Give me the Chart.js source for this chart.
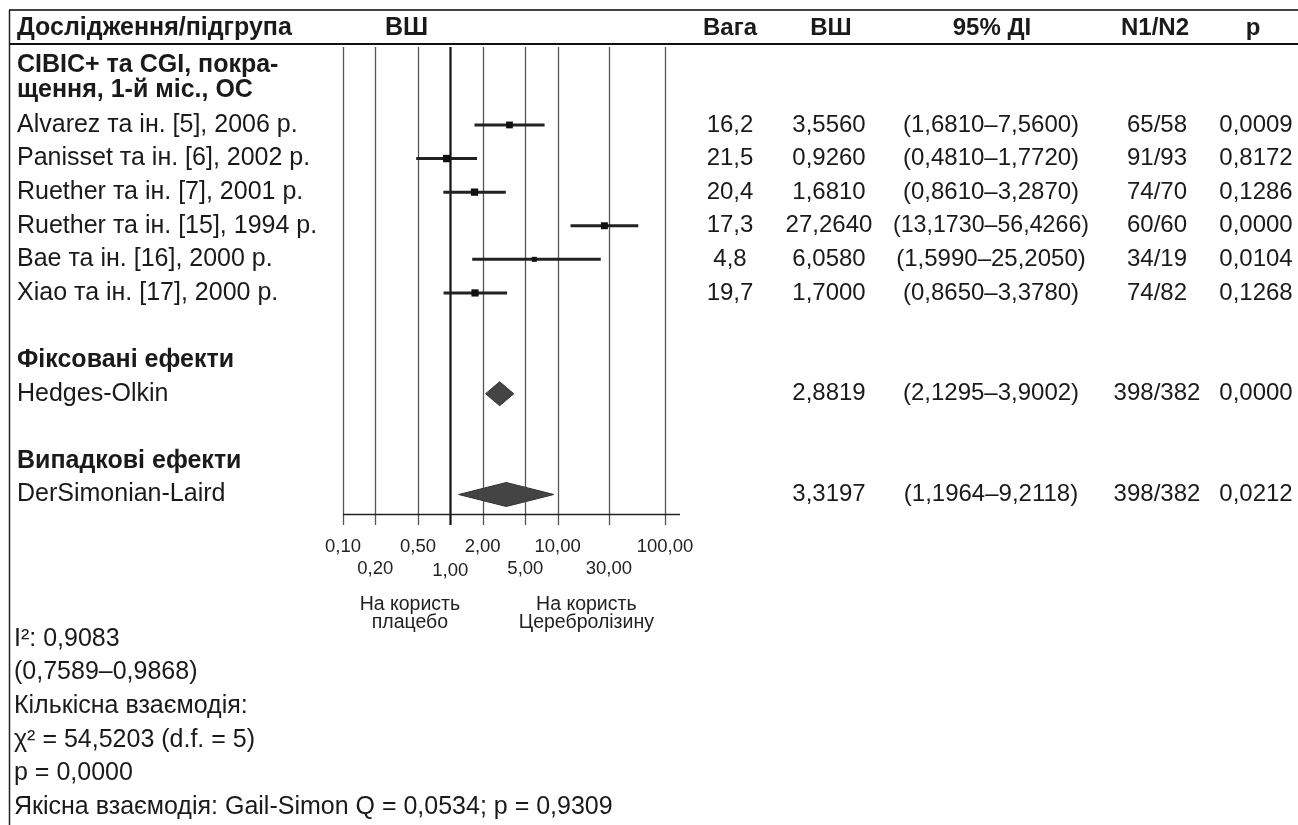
<!DOCTYPE html>
<html><head><meta charset="utf-8">
<script src="https://cdn.jsdelivr.net/npm/chart.js@4.4.1/dist/chart.umd.min.js"></script>
<style>html,body{margin:0;padding:0;background:#fff}#c{display:block}</style>
</head><body>
<canvas id="c" width="1298" height="825"></canvas>
<script>
// ---- data ----
const studies = ['Alvarez та ін. [5], 2006 р.', 'Panisset та ін. [6], 2002 р.', 'Ruether та ін. [7], 2001 р.',
  'Ruether та ін. [15], 1994 р.', 'Bae та ін. [16], 2000 р.', 'Xiao та ін. [17], 2000 р.'];
const weights = [16.2, 21.5, 20.4, 17.3, 4.8, 19.7];
const oddsRatio = [3.5560, 0.9260, 1.6810, 27.2640, 6.0580, 1.7000];
const ciLow = [1.6810, 0.4810, 0.8610, 13.1730, 1.5990, 0.8650];
const ciHigh = [7.5600, 1.7720, 3.2870, 56.4266, 25.2050, 3.3780];
const nCounts = ['65/58', '91/93', '74/70', '60/60', '34/19', '74/82'];
const pValues = ['0,0009', '0,8172', '0,1286', '0,0000', '0,0104', '0,1268'];
const summaryNames = ['Hedges-Olkin', 'DerSimonian-Laird'];
const summaryGroups = ['Фіксовані ефекти', 'Випадкові ефекти'];
const summaryOR = [2.8819, 3.3197];
const summaryLow = [2.1295, 1.1964];
const summaryHigh = [3.9002, 9.2118];
const summaryN = ['398/382', '398/382'];
const summaryP = ['0,0000', '0,0212'];
const tickValues = [0.1, 0.2, 0.5, 1, 2, 5, 10, 30, 100];
const tickLabels = ['0,10', '0,20', '0,50', '1,00', '2,00', '5,00', '10,00', '30,00', '100,00'];
const headers = ['Дослідження/підгрупа', 'ВШ', 'Вага', 'ВШ', '95% ДІ', 'N1/N2', 'p'];
const groupTitle = ['CIBIC+ та CGI, покра-', 'щення, 1-й міс., ОС'];
const footLines = ['I²: 0,9083', '(0,7589–0,9868)', 'Кількісна взаємодія:', 'χ² = 54,5203 (d.f. = 5)', 'p = 0,0000',
  'Якісна взаємодія: Gail-Simon Q = 0,0534; p = 0,9309'];
const favourLeft = ['На користь', 'плацебо'];
const favourRight = ['На користь', 'Церебролізину'];

// ---- helpers ----
const FONT = '"Liberation Sans", Arial, sans-serif';
const fmt = (v, d) => v.toFixed(d).replace('.', ',');
const summaryRow = [8, 11];
const groupRow = [7, 10];
const COL = {weight: 730, or: 829, ci: 991, n: 1157, p: 1256};
const LEFT = 17;

const datasets = [];
studies.forEach((s, i) => {
  datasets.push({
    data: [{x: ciLow[i], y: i}, {x: ciHigh[i], y: i}],
    showLine: true, borderColor: '#222', borderWidth: 3, pointRadius: 0, order: 2
  });
});
datasets.push({
  data: oddsRatio.map((v, i) => ({x: v, y: i})),
  pointStyle: 'rect', pointRadius: weights.map(w => 2 + Math.sqrt(w) * 0.7),
  backgroundColor: '#111', borderColor: '#111', borderWidth: 0, order: 1
});

const tablePlugin = {
  id: 'table',
  beforeDatasetsDraw(chart) {
    const ctx = chart.ctx, xs = chart.scales.x, ys = chart.scales.y, ca = chart.chartArea;
    ctx.save();
    // grid lines + ticks
    tickValues.forEach(v => {
      const x = Math.round(xs.getPixelForValue(v)) + 0.5;
      ctx.beginPath();
      ctx.strokeStyle = v === 1 ? '#111' : '#555';
      ctx.lineWidth = v === 1 ? 2.2 : 1.3;
      ctx.moveTo(x, ca.top); ctx.lineTo(x, ca.bottom + 11); ctx.stroke();
    });
    // axis line
    ctx.beginPath(); ctx.strokeStyle = '#222'; ctx.lineWidth = 1.5;
    ctx.moveTo(ca.left, ca.bottom + 0.5); ctx.lineTo(ca.right, ca.bottom + 0.5); ctx.stroke();
    // tick labels (staggered)
    ctx.fillStyle = '#222'; ctx.font = '18.5px ' + FONT; ctx.textAlign = 'center'; ctx.textBaseline = 'middle';
    tickValues.forEach((v, i) => {
      const x = xs.getPixelForValue(v);
      const y = ca.bottom + (i % 2 === 0 ? 33 : 55) + (v === 1 ? 2 : 0);
      ctx.fillText(tickLabels[i], x, y);
    });
    // favour labels
    ctx.font = '19.5px ' + FONT;
    const xl = xs.getPixelForValue(0.42), xr = xs.getPixelForValue(18.5);
    favourLeft.forEach((t, k) => ctx.fillText(t, xl, ca.bottom + 91 + k * 18));
    favourRight.forEach((t, k) => ctx.fillText(t, xr, ca.bottom + 91 + k * 18));
    // diamonds
    summaryOR.forEach((v, i) => {
      const y = ys.getPixelForValue(summaryRow[i]);
      const xl = xs.getPixelForValue(summaryLow[i]), xm = xs.getPixelForValue(v), xh = xs.getPixelForValue(summaryHigh[i]);
      ctx.beginPath();
      ctx.moveTo(xl, y); ctx.lineTo(xm, y - 12); ctx.lineTo(xh, y); ctx.lineTo(xm, y + 12); ctx.closePath();
      ctx.fillStyle = '#444'; ctx.fill();
      ctx.strokeStyle = '#333'; ctx.lineWidth = 1; ctx.stroke();
    });
    ctx.restore();
  },
  afterDraw(chart) {
    const ctx = chart.ctx, ys = chart.scales.y, W = chart.width, H = chart.height;
    ctx.save();
    // frame lines
    ctx.strokeStyle = '#444'; ctx.lineWidth = 2;
    ctx.beginPath(); ctx.moveTo(9, 10); ctx.lineTo(W, 10); ctx.stroke();
    ctx.strokeStyle = '#111';
    ctx.beginPath(); ctx.moveTo(9, 44); ctx.lineTo(W, 44); ctx.stroke();
    ctx.lineWidth = 1.5; ctx.strokeStyle = '#222';
    ctx.beginPath(); ctx.moveTo(9.5, 10); ctx.lineTo(9.5, H); ctx.stroke();

    ctx.fillStyle = '#1a1a1a'; ctx.textBaseline = 'middle';
    // headers
    ctx.font = 'bold 25px ' + FONT;
    ctx.textAlign = 'left';
    ctx.fillText(headers[0], LEFT, 28);
    ctx.fillText(headers[1], 385, 28);
    ctx.font = 'bold 24px ' + FONT;
    ctx.textAlign = 'center';
    ctx.fillText(headers[2], COL.weight, 28);
    ctx.fillText(headers[3], COL.or + 2, 28);
    ctx.fillText(headers[4], COL.ci + 1, 28);
    ctx.fillText(headers[5], COL.n - 2, 28);
    ctx.fillText(headers[6], COL.p - 3, 28);
    // group titles
    ctx.font = 'bold 25px ' + FONT;
    ctx.textAlign = 'left';
    ctx.fillText(groupTitle[0], LEFT, ys.getPixelForValue(-1.77));
    ctx.fillText(groupTitle[1], LEFT, ys.getPixelForValue(-1.03));
    summaryGroups.forEach((g, i) => ctx.fillText(g, LEFT, ys.getPixelForValue(groupRow[i])));

    const row = (name, y, w, orv, lo, hi, n, p) => {
      ctx.font = '25px ' + FONT;
      ctx.textAlign = 'left';
      ctx.fillText(name, LEFT, y);
      ctx.font = '24px ' + FONT;
      ctx.textAlign = 'center';
      if (w !== null) ctx.fillText(w, COL.weight, y);
      ctx.fillText(orv, COL.or, y);
      ctx.fillText('(' + lo + '–' + hi + ')', COL.ci, y, 196);
      ctx.fillText(n, COL.n, y);
      ctx.fillText(p, COL.p, y);
    };
    studies.forEach((s, i) => row(s, ys.getPixelForValue(i), fmt(weights[i], 1), fmt(oddsRatio[i], 4),
      fmt(ciLow[i], 4), fmt(ciHigh[i], 4), nCounts[i], pValues[i]));
    summaryNames.forEach((s, i) => row(s, ys.getPixelForValue(summaryRow[i]), null, fmt(summaryOR[i], 4),
      fmt(summaryLow[i], 4), fmt(summaryHigh[i], 4), summaryN[i], summaryP[i]));
    // footer
    ctx.font = '25px ' + FONT;
    ctx.textAlign = 'left';
    footLines.forEach((t, k) => ctx.fillText(t, 14, ys.getPixelForValue(15.3 + k)));
    ctx.restore();
  }
};

new Chart(document.getElementById('c'), {
  type: 'scatter',
  data: {datasets},
  options: {
    responsive: false, animation: false, devicePixelRatio: 1,
    layout: {padding: {left: 343, right: 618, top: 47, bottom: 311}},
    scales: {
      x: {type: 'logarithmic', min: 0.1, max: 138, display: false},
      y: {type: 'linear', min: -2.32, max: 11.58, reverse: true, display: false}
    },
    plugins: {legend: {display: false}, tooltip: {enabled: false}}
  },
  plugins: [tablePlugin]
});
</script>
</body></html>
